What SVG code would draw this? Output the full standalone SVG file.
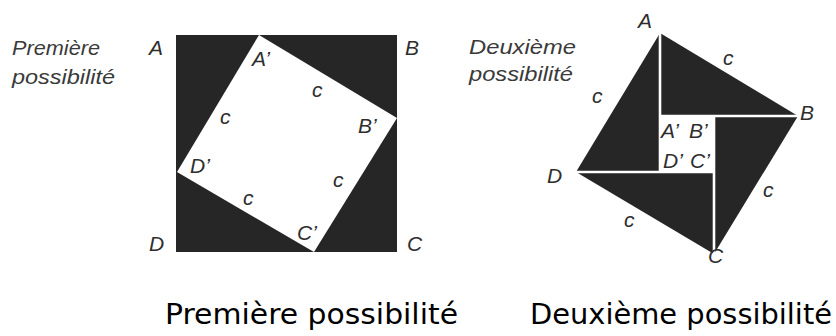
<svg xmlns="http://www.w3.org/2000/svg" width="836" height="336" viewBox="0 0 836 336">
<style>
.dark{fill:#262626}
.gap{stroke:#ffffff;stroke-width:2.6;fill:none}
.lbl{font-family:"Liberation Sans",Arial,sans-serif;font-style:italic;font-size:21px;fill:#2e2e2e}
.ttl{font-family:"Liberation Sans",Arial,sans-serif;font-style:italic;font-size:20px;fill:#3a3a3a}
.cap{font-family:"Comic Sans MS","DejaVu Sans",sans-serif;font-size:29px;fill:#000}
</style>
<rect width="836" height="336" fill="#ffffff"/>
<g id="figure1">
  <rect class="dark" x="176" y="35" width="221" height="217"/>
  <polygon points="259,35 397,118 314,252 177,172" fill="#ffffff"/>
  <text class="ttl" x="12" y="55" textLength="88" lengthAdjust="spacingAndGlyphs">Première</text>
  <text class="ttl" x="12" y="84" textLength="103" lengthAdjust="spacingAndGlyphs">possibilité</text>
  <text class="lbl" x="149" y="55">A</text>
  <text class="lbl" x="405" y="55">B</text>
  <text class="lbl" x="407" y="251">C</text>
  <text class="lbl" x="149" y="251">D</text>
  <text class="lbl" x="252" y="66">A’</text>
  <text class="lbl" x="358" y="133">B’</text>
  <text class="lbl" x="297" y="240">C’</text>
  <text class="lbl" x="190" y="173">D’</text>
  <text class="lbl" x="312" y="97">c</text>
  <text class="lbl" x="220" y="124">c</text>
  <text class="lbl" x="333" y="187">c</text>
  <text class="lbl" x="243" y="205">c</text>
</g>
<g id="figure2">
  <polygon class="dark" points="660,33 798,116 714,254 576,172"/>
  <rect x="660" y="116" width="54" height="56" fill="#ffffff"/>
  <g id="connectors">
    <line class="gap" x1="660" y1="33" x2="660" y2="172"/>
    <line class="gap" x1="798" y1="116" x2="660" y2="116"/>
    <line class="gap" x1="714" y1="254" x2="714" y2="116"/>
    <line class="gap" x1="576" y1="172" x2="714" y2="172"/>
  </g>
  <text class="ttl" x="469" y="54" textLength="107" lengthAdjust="spacingAndGlyphs">Deuxième</text>
  <text class="ttl" x="469" y="81" textLength="104" lengthAdjust="spacingAndGlyphs">possibilité</text>
  <text class="lbl" x="638" y="28">A</text>
  <text class="lbl" x="800" y="120">B</text>
  <text class="lbl" x="708" y="263">C</text>
  <text class="lbl" x="547" y="183">D</text>
  <text class="lbl" x="661" y="138">A’</text>
  <text class="lbl" x="689" y="138">B’</text>
  <text class="lbl" x="663" y="168">D’</text>
  <text class="lbl" x="690" y="168">C’</text>
  <text class="lbl" x="723" y="65">c</text>
  <text class="lbl" x="592" y="103">c</text>
  <text class="lbl" x="763" y="197">c</text>
  <text class="lbl" x="624" y="227">c</text>
</g>
<g id="captions">
  <text class="cap" x="165" y="324" textLength="293" lengthAdjust="spacingAndGlyphs">Première possibilité</text>
  <text class="cap" x="530" y="324" textLength="302" lengthAdjust="spacingAndGlyphs">Deuxième possibilité</text>
</g>
</svg>
